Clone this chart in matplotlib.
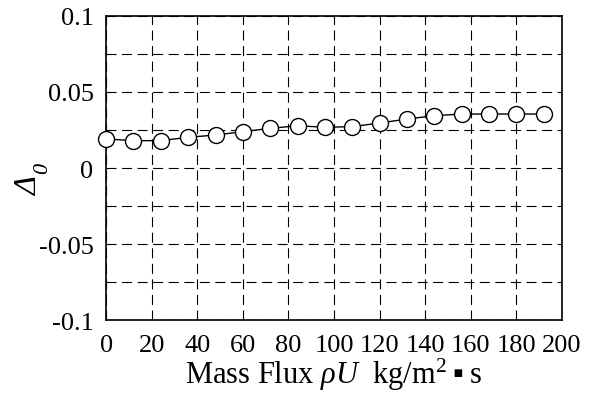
import numpy as np
import matplotlib
matplotlib.use("Agg")
import matplotlib.pyplot as plt

# data
mass_flux = [0, 12, 24, 36, 48, 60, 72, 84, 96, 108, 120, 132, 144, 156, 168, 180, 192]
delta0 = [0.0191, 0.0180, 0.0180, 0.0202, 0.0217, 0.0239, 0.0261, 0.0278, 0.0268,
          0.0272, 0.0296, 0.0322, 0.0344, 0.0355, 0.0355, 0.0355, 0.0355]

x_ticks = [0, 20, 40, 60, 80, 100, 120, 140, 160, 180, 200]
y_ticks = [-0.1, -0.075, -0.05, -0.025, 0, 0.025, 0.05, 0.075, 0.1]
y_tick_labels = ["-0.1", "", "-0.05", "", "0", "", "0.05", "", "0.1"]

plt.rcParams['font.family'] = ['Liberation Serif', 'DejaVu Sans']
plt.rcParams['mathtext.fontset'] = 'custom'
plt.rcParams['mathtext.rm'] = 'Liberation Serif'
plt.rcParams['mathtext.it'] = 'Liberation Serif:italic'
plt.rcParams['mathtext.fallback'] = 'stix'

fig = plt.figure(figsize=(5.96, 4.02), dpi=100)
ax = fig.add_axes([0.178, 0.201, 0.765, 0.757])

ax.plot(mass_flux, delta0, color='black', lw=1.0, marker='o', ms=11.5,
        mfc='white', mec='black', mew=1.0, zorder=3, clip_on=False)

ax.set_xlim(0, 200)
ax.set_ylim(-0.1, 0.1)
ax.set_xticks(x_ticks)
ax.set_xticklabels([str(v) for v in x_ticks])
ax.set_yticks(y_ticks)
ax.set_yticklabels(y_tick_labels)

ax.grid(True, color='black', lw=0.8, linestyle=(0, (9, 5)))
ax.tick_params(axis='both', length=0, labelsize=19)
ax.tick_params(axis='x', pad=10)
ax.tick_params(axis='y', pad=9)
for sp in ax.spines.values():
    sp.set_linewidth(1.2)

ax.set_xlabel('Mass Flux $\\mathit{\\rho U}$  kg/m$^2$\u2009\u25aa\u2009s', fontsize=22, labelpad=0)

# y label: italic Delta with italic subscript 0 (mathtext keeps capital Greek upright)
fig.text(0.049, 0.535, '\u0394', style='italic', fontsize=23, rotation=90,
         ha='center', va='center')
fig.text(0.071, 0.582, '0', style='italic', fontsize=16, rotation=90,
         ha='center', va='center')

fig.savefig('out.png', dpi=100)
